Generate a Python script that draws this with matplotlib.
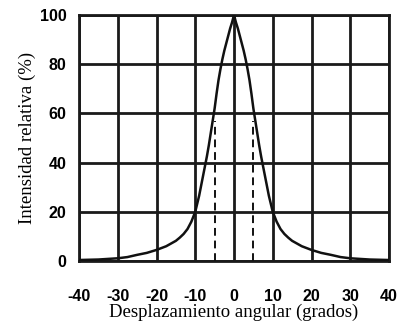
import matplotlib
matplotlib.use("Agg")
import matplotlib.pyplot as plt

plt.rcParams["axes.unicode_minus"] = False

# curve (angle in degrees, relative intensity %)
angle = [-40, -35, -30, -27.5, -25, -22.5, -20, -17.5, -15, -14, -13, -12, -11, -10,
         -9, -8, -7.5, -7, -6.5, -6, -5.5, -5, -4.5, -4, -3.5, -3, -2.5, -2, -1.5, -1, -0.5,
         0,
         0.5, 1, 1.5, 2, 2.5, 3, 3.5, 4, 4.5, 5, 5.5, 6, 6.5, 7, 7.5, 8, 9,
         10, 11, 12, 13, 14, 15, 17.5, 20, 22.5, 25, 27.5, 30, 35, 40]
intensity = [0.4, 0.6, 1.1, 1.6, 2.5, 3.3, 4.5, 6.0, 8.2, 9.5, 11, 13, 16, 20,
             26.5, 34.5, 38.5, 42.5, 47, 52, 57, 62, 68, 73.5, 78, 82, 85.5, 88.5, 91.5, 94.5, 97,
             100,
             97, 94.5, 91.5, 88.5, 85.5, 82, 78, 73.5, 68, 62, 57, 52, 47, 42.5, 38.5, 34.5, 26.5,
             20, 16, 13, 11, 9.5, 8.2, 6.0, 4.5, 3.3, 2.5, 1.6, 1.1, 0.6, 0.4]

# half-width markers (dashed)
half_x = [-5, 5]
half_top = 57

x_ticks = [-40, -30, -20, -10, 0, 10, 20, 30, 40]
y_ticks = [0, 20, 40, 60, 80, 100]

fig = plt.figure(figsize=(4.03, 3.24), dpi=100)
ax = fig.add_axes([79 / 403, 1 - 261 / 324, 310 / 403, 246 / 324])

ax.set_xlim(-40, 40)
ax.set_ylim(0, 100)
ax.set_xticks(x_ticks)
ax.set_yticks(y_ticks)

ax.grid(True, color="#1a1a1a", linewidth=2.0)
ax.set_axisbelow(True)
for s in ax.spines.values():
    s.set_linewidth(2.0)
    s.set_color("#1a1a1a")

ax.plot(angle, intensity, color="#111111", linewidth=1.8, zorder=3)
for hx in half_x:
    ax.plot([hx, hx], [0, half_top], color="#111111", linewidth=1.4,
            linestyle=(0, (4, 2.5)), zorder=3)

ax.tick_params(length=0, labelsize=11.5)
ax.tick_params(axis="x", pad=20)
ax.tick_params(axis="y", pad=9)
for lab in ax.get_xticklabels() + ax.get_yticklabels():
    lab.set_fontfamily("Liberation Sans")
    lab.set_fontweight("bold")

ax.set_xlabel("Desplazamiento angular (grados)", fontfamily="Liberation Serif",
              fontsize=13.5, labelpad=0)
ax.set_ylabel("Intensidad relativa (%)", fontfamily="Liberation Serif",
              fontsize=13.5, labelpad=2.5)

fig.savefig("out.png", dpi=100)
